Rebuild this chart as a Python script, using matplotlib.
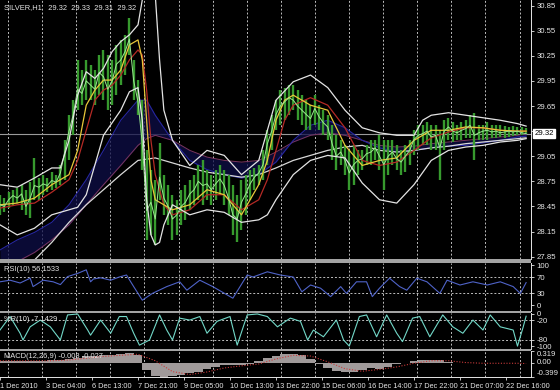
import matplotlib.pyplot as plt
import matplotlib.transforms as mtransforms
import numpy as np
from matplotlib.patches import Rectangle

W, H = 560, 390
BG = "#000000"
FG = "#e6e6e6"
GRID = "#bdbdbd"
SEP = "#a3a3a3"

# ---- price bars (H1 chart, one entry every 3 hours) ----
bar_hi = [28.59, 28.55, 28.62, 28.65, 28.67, 28.71, 28.65, 28.74, 29.03, 28.79,
          28.83, 28.79, 28.86, 28.83, 28.94, 29.24, 29.54, 29.72, 30.20, 30.08,
          30.20, 30.14, 30.08, 30.26, 30.32, 30.26, 30.20, 30.38, 30.44, 30.50,
          30.70, 30.20, 29.96, 29.72, 29.12, 28.89, 28.77, 29.21, 28.83, 28.71,
          28.59, 28.53, 28.65, 28.71, 28.77, 28.83, 28.94, 29.00, 28.89, 28.83,
          28.89, 28.94, 28.89, 28.83, 28.71, 28.59, 28.77, 28.83, 28.89, 28.91,
          28.94, 29.12, 29.36, 29.54, 29.72, 29.84, 29.87, 29.90, 29.90, 29.84,
          29.78, 29.72, 29.66, 29.78, 29.66, 29.60, 29.54, 29.42, 29.30, 29.24,
          29.18, 29.12, 29.18, 29.12, 29.12, 29.18, 29.24, 29.24, 29.30, 29.24,
          29.24, 29.24, 29.18, 29.12, 29.18, 29.24, 29.36, 29.42, 29.42, 29.46,
          29.42, 29.42, 29.36, 29.48, 29.51, 29.46, 29.42, 29.46, 29.48, 29.54,
          29.57, 29.42, 29.42, 29.46, 29.42, 29.42, 29.42, 29.41, 29.40, 29.41,
          29.40, 29.40, 29.39]
bar_lo = [28.35, 28.38, 28.43, 28.47, 28.49, 28.41, 28.35, 28.31, 28.53, 28.53,
          28.59, 28.62, 28.65, 28.67, 28.71, 28.77, 29.00, 29.30, 29.60, 29.66,
          29.72, 29.72, 29.66, 29.78, 29.72, 29.60, 29.66, 29.78, 29.90, 30.02,
          30.26, 29.72, 29.54, 28.89, 28.05, 28.11, 27.99, 28.53, 28.35, 28.23,
          28.05, 28.11, 28.23, 28.29, 28.41, 28.47, 28.53, 28.47, 28.53, 28.47,
          28.53, 28.59, 28.47, 28.35, 28.11, 28.02, 28.17, 28.35, 28.53, 28.65,
          28.71, 28.77, 28.94, 29.12, 29.36, 29.42, 29.48, 29.54, 29.60, 29.48,
          29.42, 29.36, 29.36, 29.42, 29.36, 29.30, 29.24, 29.00, 28.89, 28.94,
          28.83, 28.65, 28.71, 28.83, 28.89, 28.94, 28.94, 29.00, 28.89, 28.65,
          28.83, 28.94, 28.89, 28.83, 28.86, 28.94, 29.06, 29.12, 29.18, 29.18,
          29.12, 29.12, 28.77, 29.12, 29.24, 29.22, 29.24, 29.24, 29.27, 29.27,
          29.00, 29.24, 29.24, 29.24, 29.27, 29.27, 29.28, 29.27, 29.28, 29.29,
          29.30, 29.30, 29.32]
bar_close = [28.47, 28.45, 28.53, 28.58, 28.55, 28.60, 28.45, 28.55, 28.70, 28.68,
             28.72, 28.70, 28.76, 28.74, 28.85, 29.10, 29.35, 29.55, 29.85, 29.80,
             29.95, 29.90, 29.85, 30.05, 30.00, 29.85, 29.95, 30.15, 30.20, 30.30,
             30.45, 29.95, 29.70, 29.20, 28.40, 28.50, 28.30, 28.80, 28.55, 28.45,
             28.30, 28.35, 28.45, 28.50, 28.60, 28.65, 28.75, 28.70, 28.72, 28.65,
             28.72, 28.78, 28.70, 28.55, 28.35, 28.30, 28.50, 28.60, 28.72, 28.80,
             28.85, 28.95, 29.20, 29.35, 29.55, 29.65, 29.70, 29.75, 29.72, 29.65,
             29.60, 29.55, 29.50, 29.62, 29.52, 29.45, 29.40, 29.20, 29.05, 29.10,
             29.00, 28.85, 28.95, 29.00, 29.02, 29.08, 29.10, 29.15, 29.05, 28.95,
             29.05, 29.10, 29.02, 28.98, 29.05, 29.12, 29.25, 29.30, 29.32, 29.35,
             29.28, 29.30, 29.15, 29.35, 29.40, 29.35, 29.33, 29.36, 29.38, 29.42,
             29.30, 29.33, 29.35, 29.36, 29.34, 29.35, 29.33, 29.34, 29.35, 29.34,
             29.35, 29.33, 29.32]
bar_t = np.arange(len(bar_hi)) * 3
last_price = 29.32

# ---- overlays on the price chart ----
bbu_t = [0, 12, 24, 36, 42, 48, 54, 60, 66, 72, 78, 84, 90, 96, 99, 102, 105, 108, 111, 114,
         120, 132, 144, 156, 168, 180, 186, 192, 204, 216, 228, 240, 252, 264, 276, 288, 294,
         300, 312, 324, 336, 348, 360, 366]
bbu = [28.71, 28.68, 28.79, 28.91, 28.91, 29.24, 29.78, 30.06, 29.98, 30.10, 30.30, 30.42,
       30.50, 30.62, 30.92, 31.40, 31.40, 30.98, 30.20, 29.60, 29.24, 28.94, 29.12, 29.06,
       28.83, 29.00, 29.36, 29.72, 29.94, 30.02, 29.87, 29.60, 29.39, 29.33, 29.30, 29.30,
       29.48, 29.54, 29.57, 29.54, 29.51, 29.48, 29.44, 29.41]
bbl_t = [0, 12, 24, 36, 48, 54, 60, 72, 84, 90, 96, 99, 102, 105, 108, 111, 114, 120, 132,
         144, 156, 168, 180, 186, 192, 204, 216, 228, 240, 252, 264, 276, 288, 300, 312, 324,
         336, 348, 360, 366]
bbl = [28.23, 28.11, 28.19, 28.35, 28.41, 28.44, 28.59, 29.30, 29.60, 29.82, 29.87, 29.48,
       28.53, 28.11, 27.99, 28.02, 28.23, 28.47, 28.35, 28.41, 28.38, 28.26, 28.29, 28.35,
       28.53, 28.83, 29.00, 29.06, 29.03, 28.73, 28.53, 28.49, 28.71, 29.00, 29.12, 29.16,
       29.18, 29.22, 29.24, 29.26]

ma_t = [0, 12, 24, 36, 48, 60, 72, 84, 96, 108, 120, 132, 144, 156, 168, 180, 192, 204,
        216, 228, 240, 252, 264, 276, 288, 300, 312, 324, 336, 348, 360, 366]
ma_long = [27.45, 27.63, 27.81, 28.02, 28.26, 28.47, 28.65, 28.83, 29.00, 29.03, 28.97,
           28.91, 28.86, 28.83, 28.80, 28.83, 28.91, 29.00, 29.06, 29.12, 29.16, 29.18,
           29.12, 29.10, 29.12, 29.15, 29.17, 29.20, 29.22, 29.24, 29.26, 29.27]

slow_t = [0, 12, 24, 36, 48, 60, 72, 84, 96, 102, 108, 120, 132, 144, 156, 168, 180, 192,
          204, 216, 228, 240, 252, 264, 276, 288, 300, 312, 324, 336, 348, 360, 366]
ma_blue = [27.93, 28.05, 28.14, 28.26, 28.47, 28.77, 29.12, 29.48, 29.72, 29.72, 29.54,
           29.24, 29.00, 28.89, 28.83, 28.79, 28.83, 28.98, 29.24, 29.42, 29.48, 29.39,
           29.24, 29.15, 29.10, 29.12, 29.15, 29.17, 29.18, 29.21, 29.24, 29.28, 29.29]
ma_purple = [27.69, 27.79, 27.90, 28.05, 28.23, 28.47, 28.71, 28.94, 29.18, 29.26, 29.30,
             29.24, 29.12, 29.04, 29.00, 28.98, 29.00, 29.10, 29.22, 29.30, 29.33, 29.30,
             29.24, 29.18, 29.16, 29.17, 29.20, 29.22, 29.24, 29.26, 29.28, 29.30, 29.32]

fast_t = [0, 12, 24, 36, 48, 54, 60, 66, 72, 78, 84, 90, 96, 99, 102, 105, 108, 114, 120,
          132, 144, 156, 168, 180, 186, 192, 198, 204, 216, 228, 240, 252, 264, 276, 288,
          300, 312, 324, 336, 348, 360, 366]
ma_red = [28.43, 28.47, 28.49, 28.62, 28.77, 29.00, 29.36, 29.72, 29.84, 29.90, 30.02,
          30.20, 30.32, 30.26, 29.84, 29.24, 28.83, 28.47, 28.35, 28.41, 28.59, 28.59,
          28.41, 28.53, 28.77, 29.12, 29.48, 29.66, 29.75, 29.66, 29.39, 29.00, 28.94,
          28.98, 29.12, 29.27, 29.34, 29.39, 29.39, 29.36, 29.35, 29.35]
ma_yellow = [28.47, 28.49, 28.55, 28.71, 28.83, 29.12, 29.66, 29.84, 29.96, 29.96, 30.08,
             30.38, 30.44, 30.20, 29.48, 28.77, 28.53, 28.47, 28.41, 28.47, 28.65, 28.59,
             28.35, 28.71, 29.00, 29.48, 29.72, 29.78, 29.66, 29.60, 29.18, 28.94, 29.00,
             29.03, 29.24, 29.36, 29.36, 29.40, 29.39, 29.36, 29.35, 29.35]

# ---- RSI(10) ----
rsi_t = [0, 7, 14, 21, 23, 30, 37, 42, 47, 54, 60, 63, 65, 70, 77, 83, 88, 93, 99, 106,
         116, 125, 130, 139, 148, 162, 172, 176, 186, 195, 204, 210, 216, 223, 230, 237,
         241, 248, 255, 259, 264, 271, 278, 283, 290, 297, 306, 311, 320, 329, 339, 348,
         357, 362, 366]
rsi_v = [58, 62, 55, 67, 46, 62, 58, 51, 71, 79, 88, 58, 65, 68, 62, 70, 75, 46, 12, 29,
         46, 58, 37, 62, 46, 17, 75, 70, 83, 75, 70, 33, 50, 42, 21, 46, 29, 58, 58, 21,
         42, 67, 46, 37, 67, 58, 29, 62, 50, 58, 50, 58, 46, 29, 56]

# ---- Williams %R(10) ----
wpr_t = [0, 7, 14, 16, 21, 28, 35, 42, 47, 54, 61, 63, 70, 77, 83, 88, 93, 97, 104, 111,
         116, 120, 125, 132, 139, 144, 151, 160, 165, 172, 179, 186, 193, 202, 209, 214,
         218, 225, 234, 239, 243, 250, 255, 262, 269, 276, 280, 287, 292, 299, 308, 315,
         322, 329, 336, 341, 348, 357, 360, 364, 366]
wpr_v = [-50, -8, -60, -81, -40, -19, -40, -81, -3, 0, -50, -66, -19, -60, -8, -8, -60,
         -97, -81, -3, -50, -81, -13, -19, -8, -60, -23, -8, -97, -3, 0, -8, -40, -13,
         -23, -81, -50, -71, -19, -81, -100, -8, -3, -71, -3, -60, -86, -13, -8, -71, -3,
         -40, -60, -19, -50, -3, -40, -50, -100, -40, -7]

# ---- MACD(12,26,9) ----
macd_t = np.arange(0, 367, 6)
macd_hist = [0.05, 0.05, 0.04, 0.04, 0.05, 0.05, 0.06, 0.06, 0.09, 0.13,
             0.17, 0.19, 0.20, 0.21, 0.24, 0.27, 0.22, -0.20, -0.38, -0.39,
             -0.37, -0.33, -0.30, -0.25, -0.18, -0.12, -0.08, -0.07, -0.08, -0.03,
             0.05, 0.12, 0.19, 0.23, 0.24, 0.20, 0.10, -0.05, -0.15, -0.24,
             -0.27, -0.25, -0.20, -0.16, -0.18, -0.12, -0.05, 0.00, 0.04, 0.07,
             0.08, 0.06, 0.01, -0.02, -0.02, -0.01, -0.02, -0.02, -0.01, -0.01,
             -0.01, -0.008]
macd_sig = [0.05, 0.05, 0.05, 0.05, 0.07, 0.12, 0.17, 0.20, 0.23, 0.05,
            -0.25, -0.33, -0.26, -0.15, -0.09, -0.04, 0.10, 0.20, 0.18, 0.02,
            -0.17, -0.24, -0.19, -0.12, -0.02, 0.05, 0.05, 0.00, -0.02, -0.02,
            -0.02, -0.027]

date_ticks = np.arange(0, 353, 32)
date_labels = ["1 Dec 2010", "3 Dec 04:00", "6 Dec 13:00", "7 Dec 21:00", "9 Dec 05:00",
               "10 Dec 13:00", "13 Dec 22:00", "15 Dec 06:00", "16 Dec 14:00",
               "17 Dec 22:00", "21 Dec 07:00", "22 Dec 16:00"]

plt.rcParams["font.family"] = ["Liberation Sans", "DejaVu Sans"]

fig = plt.figure(figsize=(W / 100, H / 100), dpi=100, facecolor=BG)


def px_box(x0, y0, x1, y1):
    return [x0 / W, 1 - y1 / H, (x1 - x0) / W, (y1 - y0) / H]


X_END = 369.4
day_lines = np.arange(5.6, X_END, 23.72)


def style(ax, ylim, ticks, labels):
    ax.set_facecolor(BG)
    ax.set_xlim(0, X_END)
    ax.set_ylim(*ylim)
    for s in ("top", "left", "bottom"):
        ax.spines[s].set_visible(False)
    ax.spines["right"].set_color(FG)
    ax.spines["right"].set_linewidth(0.7)
    ax.yaxis.tick_right()
    ax.set_yticks(ticks)
    ax.set_yticklabels(labels)
    ax.tick_params(axis="y", colors=FG, labelsize=5.6, length=2.5, width=0.6, pad=1.5)
    ax.set_xticks([])
    for xv in day_lines:
        ax.axvline(xv, color=GRID, lw=0.7, ls=(0, (2, 2)), zorder=1)


# main price panel
ax = fig.add_axes(px_box(0, 0, 531, 259))
pticks = [27.85, 28.15, 28.45, 28.75, 29.05, 29.35, 29.65, 29.95, 30.25, 30.55, 30.85]
style(ax, (27.822, 30.917), pticks, [f"{v:.2f}" for v in pticks])
for lbl, v in zip(ax.get_yticklabels(), pticks):
    if abs(v - 29.35) < 1e-6:
        lbl.set_visible(False)
ax.axhline(last_price, color="#9a9a9a", lw=0.8, zorder=2)
ax.fill_between(slow_t, ma_blue, ma_purple, color="#0e0e48", alpha=0.75, lw=0, zorder=2)
ax.plot(slow_t, ma_purple, color="#7a3560", lw=0.7, zorder=3)
ax.plot(slow_t, ma_blue, color="#2626a0", lw=0.8, zorder=3)
ax.plot(ma_t, ma_long, color="#d8d8d8", lw=0.9, zorder=3)
ax.vlines(bar_t, bar_lo, bar_hi, color="#379a2e", lw=1.7, zorder=4)
ax.plot(fast_t, ma_red, color="#b52a25", lw=0.9, zorder=5)
ax.plot(fast_t, ma_yellow, color="#e8c83a", lw=0.9, zorder=5)
ax.plot(bar_t, bar_close, color="#9ae890", lw=0.7, zorder=6)
ax.plot(bbu_t, bbu, color="#e4e4e4", lw=0.9, zorder=6)
ax.plot(bbl_t, bbl, color="#e4e4e4", lw=0.9, zorder=6)
trans = mtransforms.blended_transform_factory(ax.transAxes, ax.transData)
ax.text(1.006, last_price, f"{last_price:.2f}", transform=trans, fontsize=5.6, color="#000000",
        va="center", ha="left", bbox=dict(boxstyle="square,pad=0.15", fc="#ffffff", ec="#ffffff"))
ax.text(0.008, 0.985, "SILVER,H1   29.32  29.33  29.31  29.32", transform=ax.transAxes,
        fontsize=5.4, color=FG, va="top", ha="left")

# RSI panel
ax_rsi = fig.add_axes(px_box(0, 263, 531, 311))
style(ax_rsi, (-15, 105), [0, 30, 70, 100], ["0", "30", "70", "100"])
for lv in (30, 70):
    ax_rsi.axhline(lv, color=GRID, lw=0.7, ls=(0, (2, 2)), zorder=1)
ax_rsi.plot(rsi_t, rsi_v, color="#4f63c8", lw=0.8, zorder=3)
ax_rsi.text(0.008, 0.93, "RSI(10) 56.1533", transform=ax_rsi.transAxes, fontsize=5.4,
            color=FG, va="top", ha="left")

# Williams %R panel
ax_wpr = fig.add_axes(px_box(0, 313, 531, 349))
style(ax_wpr, (-109, 3), [0, -20, -80, -100], ["0", "-20", "-80", "-100"])
for lv in (-20, -80):
    ax_wpr.axhline(lv, color=GRID, lw=0.7, ls=(0, (2, 2)), zorder=1)
ax_wpr.plot(wpr_t, wpr_v, color="#72d8c8", lw=0.8, zorder=3)
ax_wpr.text(0.008, 0.93, "%R(10) -7.1429", transform=ax_wpr.transAxes, fontsize=5.4,
            color=FG, va="top", ha="left")

# MACD panel
ax_m = fig.add_axes(px_box(0, 351, 531, 377))
style(ax_m, (-0.399, 0.319), [0.319, 0.0, -0.399], ["0.319", "0.00", "-0.399"])
for lbl, va in zip(ax_m.get_yticklabels(), ["top", "center", "bottom"]):
    lbl.set_va(va)
ax_m.bar(macd_t, macd_hist, width=6, color="#a09a9a", lw=0, zorder=2)
ax_m.plot(ma_t, macd_sig, color="#c83a3a", lw=0.8, ls=(0, (1, 1.5)), zorder=3)
ax_m.text(0.008, 0.92, "MACD(12,26,9) -0.008 -0.027", transform=ax_m.transAxes,
          fontsize=5.4, color=FG, va="top", ha="left", zorder=4)
ax_m.spines["bottom"].set_visible(True)
ax_m.spines["bottom"].set_color(FG)
ax_m.spines["bottom"].set_linewidth(0.7)
ax_m.set_xticks(date_ticks)
ax_m.set_xticklabels(date_labels, ha="left")
ax_m.tick_params(axis="x", colors=FG, labelsize=5.3, length=2.5, width=0.6, pad=1.5)

# panel separators
for y0, y1 in ((259, 263), (311, 313), (349, 351)):
    fig.add_artist(Rectangle((0, 1 - y1 / H), 531 / W, (y1 - y0) / H,
                             transform=fig.transFigure, color=SEP, lw=0))

fig.savefig("out.png", dpi=100, facecolor=BG)
